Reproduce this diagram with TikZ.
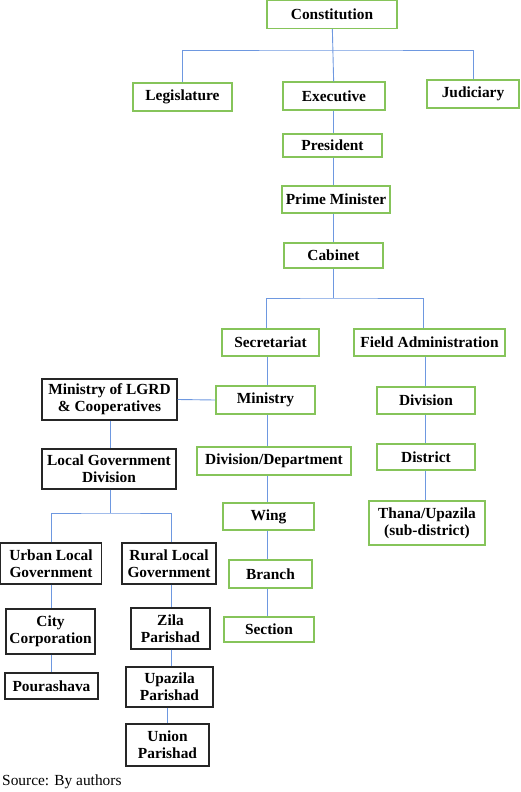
\documentclass[tikz,border=0pt]{standalone}
\usepackage{fontspec}
\setmainfont{Liberation Serif}
\definecolor{boxgreen}{HTML}{86C45A}
\definecolor{linkblue}{HTML}{6E98E0}
\definecolor{boxblack}{HTML}{262626}
\tikzset{
gbox/.style={draw=boxgreen, line width=1.3pt, inner sep=0pt, align=center,
  font=\fontsize{15.4}{17}\selectfont\bfseries},
kbox/.style={draw=boxblack, line width=1.3pt, inner sep=0pt, align=center,
  font=\fontsize{15.4}{17}\selectfont\bfseries},
link/.style={draw=linkblue, line width=0.9pt}
}

\begin{document}
\begin{tikzpicture}[x=1pt, y=-1pt]
  \useasboundingbox (0,0) rectangle (520,792);
  \node[gbox, minimum width=130, minimum height=28] (const) at (332,14.5) {Constitution};
  \node[gbox, minimum width=99, minimum height=28] (leg) at (182.5,97) {Legislature};
  \node[gbox, minimum width=102, minimum height=28] (exec) at (334,96) {Executive};
  \node[gbox, minimum width=92, minimum height=28] (jud) at (473,94) {Judiciary};
  \node[gbox, minimum width=99, minimum height=23] (pres) at (332.5,145.5) {President};
  \node[gbox, minimum width=108, minimum height=27] (pm) at (336,199.5) {Prime Minister};
  \node[gbox, minimum width=99, minimum height=25] (cab) at (333.5,255.5) {Cabinet};
  \node[gbox, minimum width=97, minimum height=27] (secr) at (270.5,342.5) {Secretariat};
  \node[gbox, minimum width=151, minimum height=27] (field) at (429.5,342.5) {Field Administration};
  \node[gbox, minimum width=99, minimum height=28] (min) at (265.5,400) {Ministry};
  \node[gbox, minimum width=154, minimum height=28] (dept) at (274,461) {Division/Department};
  \node[gbox, minimum width=91, minimum height=27] (wing) at (268.5,516.5) {Wing};
  \node[gbox, minimum width=83, minimum height=28] (branch) at (270.5,574) {Branch};
  \node[gbox, minimum width=90, minimum height=25] (sect) at (269,629.5) {Section};
  \node[gbox, minimum width=98, minimum height=27] (fdiv) at (426,400.5) {Division};
  \node[gbox, minimum width=98, minimum height=26] (dist) at (426,457) {District};
  \node[gbox, minimum width=116, minimum height=44] (thana) at (427,523) {Thana/Upazila\\(sub-district)};
  \node[kbox, minimum width=135, minimum height=41] (lgrd) at (109.5,399.5) {Ministry of LGRD\\\& Cooperatives};
  \node[kbox, minimum width=134, minimum height=40] (lgd) at (109,469) {Local Government\\Division};
  \node[kbox, minimum width=101, minimum height=41] (urban) at (51,563.5) {Urban Local\\Government};
  \node[kbox, minimum width=94, minimum height=41] (rural) at (169,563.5) {Rural Local\\Government};
  \node[kbox, minimum width=89, minimum height=45] (city) at (50.5,631.5) {City\\Corporation};
  \node[kbox, minimum width=93, minimum height=26] (pour) at (51.5,686) {Pourashava};
  \node[kbox, minimum width=79, minimum height=41] (zila) at (170.5,628.5) {Zila\\Parishad};
  \node[kbox, minimum width=87, minimum height=40] (upaz) at (169.5,687) {Upazila\\Parishad};
  \node[kbox, minimum width=83, minimum height=42] (union) at (167.5,745) {Union\\Parishad};
  \node[anchor=west, inner sep=0pt, font=\fontsize{15.4}{17}\selectfont] (src) at (2,782) {Source: By authors};

  \coordinate (cbus) at (334,50);
  \coordinate (sbus) at (333,298);
  \coordinate (lbus) at (110,513);
  \coordinate (ctop) at (333,0);
  \coordinate (cmain) at (267,0);
  \coordinate (cfield) at (425,0);
  \coordinate (clgrd) at (110,0);
  \coordinate (curban) at (51,0);
  \coordinate (crural) at (171,0);
  \coordinate (cunion) at (167,0);

  \draw[link] (const) -- (exec);
  \draw[link] (leg.north) |- (cbus) -| (jud.north);
  \draw[link] (cab.south -| ctop) -- (sbus);
  \draw[link] (secr.north -| 266,0) |- (sbus) -| (field.north -| 423,0);
  \draw[link] (lgrd.east) -- (min.west);
  \draw[link] (lgd.south -| clgrd) -- (lbus);
  \draw[link] (urban.north) |- (lbus) -| (rural.north -| crural);
  \foreach \a/\b/\c in {exec/pres/ctop, pres/pm/ctop, pm/cab/ctop,
    secr/min/cmain, min/dept/cmain, dept/wing/cmain, wing/branch/cmain, branch/sect/cmain,
    field/fdiv/cfield, fdiv/dist/cfield, dist/thana/cfield,
    lgrd/lgd/clgrd, urban/city/curban, city/pour/curban,
    rural/zila/crural, zila/upaz/crural, upaz/union/cunion}
    \draw[link] (\a.south -| \c) -- (\b.north -| \c);
\end{tikzpicture}
\end{document}
